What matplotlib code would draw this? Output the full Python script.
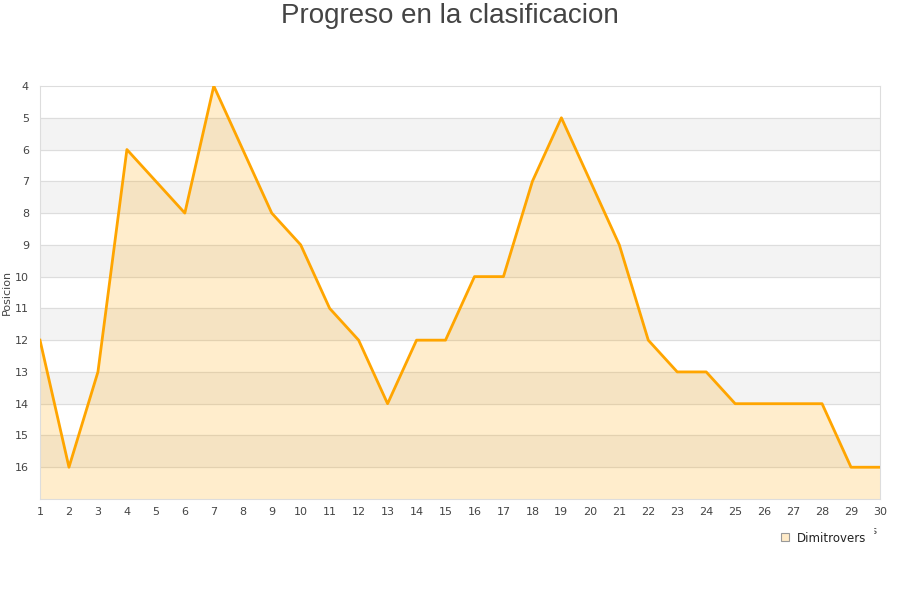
import matplotlib.pyplot as plt
from matplotlib.lines import Line2D

jornadas = list(range(1, 31))
posicion = [12, 16, 13, 6, 7, 8, 4, 6, 8, 9, 11, 12, 14, 12, 12, 10, 10, 7, 5, 7,
            9, 12, 13, 13, 14, 14, 14, 14, 16, 16]
equipo = "Dimitrovers"

fig = plt.figure(figsize=(9, 6), dpi=100)
ax = fig.add_axes([40/900, 1-499/600, 840/900, 413/600])

# bandas alternas
for y in range(5, 17, 2):
    ax.axhspan(y, y + 1, color='#f3f3f3', zorder=0)
for y in range(5, 17):
    ax.axhline(y, color='#dddddd', lw=0.8, zorder=1)

ax.fill_between(jornadas, posicion, 17, color='#ffa500', alpha=0.2, lw=0, zorder=2)
ax.plot(jornadas, posicion, color='#ffa500', lw=2, zorder=3)

ax.set_xlim(1, 30)
ax.set_ylim(17, 4)
ax.set_xticks(jornadas)
ax.set_yticks(range(4, 17))
ax.tick_params(labelsize=8, colors='#444444', length=0, pad=6)
ax.tick_params(axis='y', pad=8)
for s in ax.spines.values():
    s.set_color('#dddddd')

ax.set_ylabel('Posicion', fontsize=8, color='#444444', labelpad=2)
# etiqueta del eje x, tapada casi entera por la leyenda como en el original
fig.text(878/900, 1-531/600, 'Jornadas', fontsize=8, color='#444444', ha='right',
         va='center', zorder=1)

h = Line2D([], [], marker='s', ls='none', markersize=6, markerfacecolor='#ffebc8',
           markeredgecolor='#999999', markeredgewidth=0.8)
leg = fig.legend([h], [equipo], loc='center left', bbox_to_anchor=(772/900, 1-538/600),
                 frameon=True, fontsize=8.5, handletextpad=0.5, borderpad=0.6,
                 handlelength=1.0, borderaxespad=0)
leg.set_zorder(10)
leg.get_frame().set_facecolor('white')
leg.get_frame().set_edgecolor('white')
leg.get_frame().set_alpha(1)
for t in leg.get_texts():
    t.set_color('#222222')

fig.text(0.5, 1-16/600, 'Progreso en la clasificacion', fontsize=20, color='#444444',
         ha='center', va='center', family='Liberation Sans')

fig.savefig('out.png', dpi=100)
